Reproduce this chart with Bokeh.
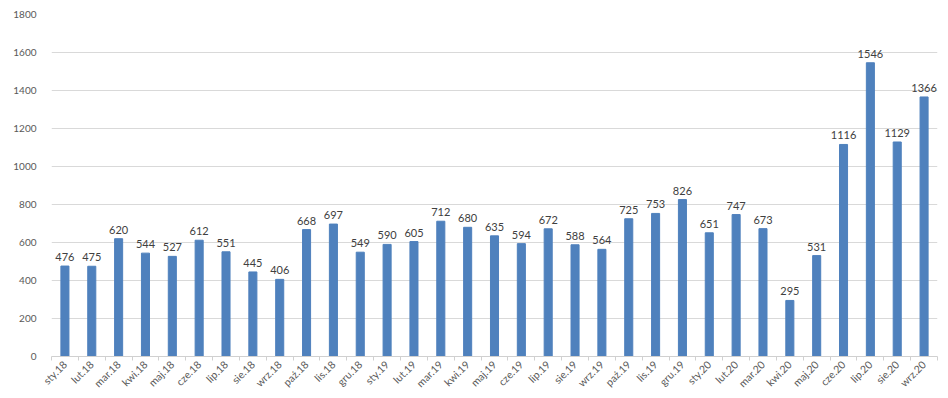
import math
from bokeh.plotting import figure
from bokeh.models import ColumnDataSource, FixedTicker, Range1d
from bokeh.core.properties import value
from bokeh.embed import file_html
from bokeh.resources import INLINE

months = ["sty.18", "lut.18", "mar.18", "kwi.18", "maj.18", "cze.18", "lip.18", "sie.18", "wrz.18",
          "paź.18", "lis.18", "gru.18", "sty.19", "lut.19", "mar.19", "kwi.19", "maj.19", "cze.19",
          "lip.19", "sie.19", "wrz.19", "paź.19", "lis.19", "gru.19", "sty.20", "lut.20", "mar.20",
          "kwi.20", "maj.20", "cze.20", "lip.20", "sie.20", "wrz.20"]
counts = [476, 475, 620, 544, 527, 612, 551, 445, 406, 668, 697, 549, 590, 605, 712, 680, 635, 594,
          672, 588, 564, 725, 753, 826, 651, 747, 673, 295, 531, 1116, 1546, 1129, 1366]
y_ticks = [0, 200, 400, 600, 800, 1000, 1200, 1400, 1600, 1800]

xs = list(range(len(months)))
src = ColumnDataSource(dict(x=xs, v=counts, lbl=[str(c) for c in counts]))

p = figure(width=940, height=396, output_backend="svg", toolbar_location=None,
           x_range=Range1d(-0.5, len(months) - 0.5), y_range=Range1d(0, 1800),
           min_border_left=51, min_border_right=3, min_border_top=14, min_border_bottom=39)
p.outline_line_color = None
p.background_fill_color = "white"

p.vbar(x="x", top="v", width=0.3, bottom=0, source=src, color="#4f81bd")
p.text(x="x", y="v", text="lbl", source=src, text_align="center", text_baseline="bottom",
       y_offset=-5, text_font=value("Lato"), text_font_size="11px", text_color="#404040")

# x axis
p.xaxis.ticker = FixedTicker(ticks=xs, minor_ticks=[i - 0.5 for i in range(len(months) + 1)])
p.xaxis.major_label_overrides = {i: m for i, m in enumerate(months)}
p.xaxis.major_label_orientation = math.pi / 4
p.xaxis.major_tick_line_color = None
p.xaxis.minor_tick_in = 0
p.xaxis.minor_tick_out = 4
p.xaxis.minor_tick_line_color = "#d0d0d0"
p.xaxis.axis_line_color = "#d0d0d0"
p.xaxis.major_label_text_font = "Lato"
p.xaxis.major_label_text_font_size = "10.5px"
p.xaxis.major_label_text_color = "#595959"
p.xaxis.major_label_standoff = 0
p.xgrid.grid_line_color = None

# y axis
p.yaxis.ticker = FixedTicker(ticks=y_ticks)
p.yaxis.axis_line_color = None
p.yaxis.major_tick_line_color = None
p.yaxis.minor_tick_line_color = None
p.yaxis.major_label_text_font = "Lato"
p.yaxis.major_label_text_font_size = "10px"
p.yaxis.major_label_text_color = "#595959"
p.yaxis.major_label_standoff = 9
p.ygrid.grid_line_color = "#d9d9d9"

open("out.html", "w").write(file_html(p, INLINE))
